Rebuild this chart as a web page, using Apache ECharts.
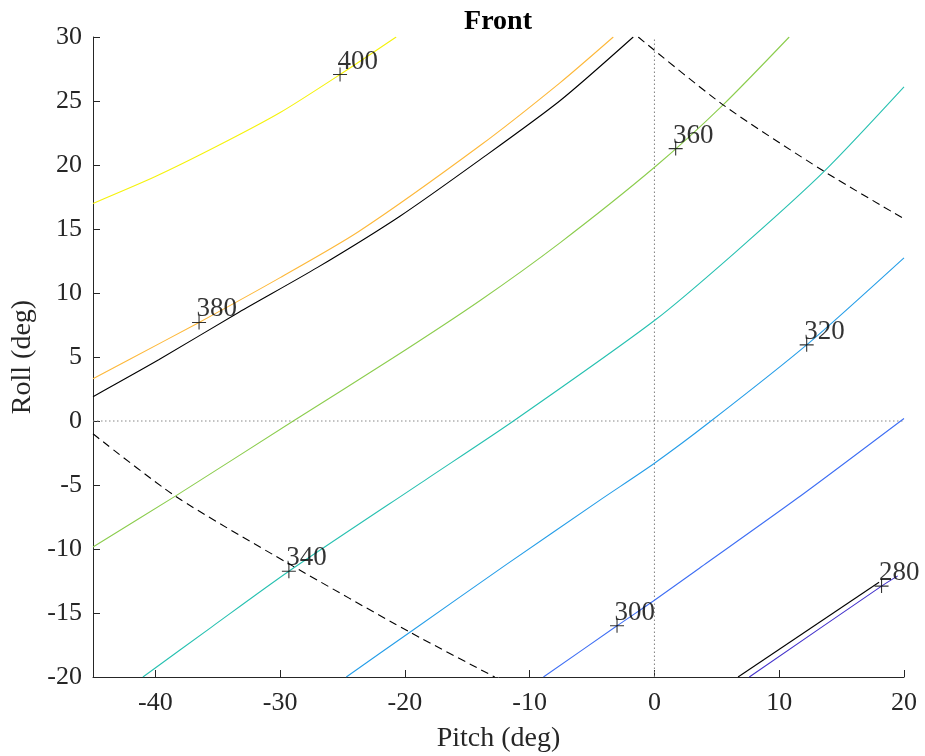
<!DOCTYPE html>
<html>
<head>
<meta charset="utf-8">
<script src="https://cdn.jsdelivr.net/npm/echarts@6/dist/echarts.min.js"></script>
<style>html,body{margin:0;padding:0;background:#fff}#c{width:925px;height:756px}</style>
</head>
<body>
<div id="c"></div>
<script>
// ---- data (pitch deg, roll deg) ----
const xTickValues = [-40, -30, -20, -10, 0, 10, 20];
const contour400 = [[-45,17.0],[-40,19.1],[-35,21.5],[-30,24.1],[-25.2,27.07],[-20.7,30.0]];
const contour380 = [[-45,3.3],[-42.2,4.75],[-36.5,7.7],[-30,11.2],[-23.7,14.8],[-14.0,21.5],[-7.6,26.4],[-3.3,30.0]];
const boundaryUpper = [[-45,1.9],[-39.7,4.8],[-33.3,8.5],[-27,12.0],[-20.4,16.0],[-14.0,20.4],[-7.6,25.0],[-1.7,30.0]];
const contour360 = [[-45,-9.84],[-38.4,-5.87],[-28.95,0],[-21.0,4.9],[-14.0,9.4],[-7.6,13.9],[0.1,19.9],[5.5,24.7],[10.8,30.0]];
const contour340 = [[-41.0,-20],[-35.5,-16.1],[-29.3,-11.74],[-18.2,-4.5],[-11.3,0],[0,7.85],[6.5,13.2],[13.6,19.5],[20,26.1]];
const contour320 = [[-24.7,-20],[-19.6,-16.5],[-12,-11.3],[-4.4,-6.2],[0,-3.3],[4.4,-0.1],[12.2,5.95],[20,12.75]];
const contour300 = [[-8.9,-20],[-3.0,-16.0],[0,-14.0],[3.6,-11.5],[11.5,-6.0],[20,0.2]];
const contour280 = [[7.6,-20],[18.2,-12.9],[19.5,-12.1]];
const boundaryLower = [[6.7,-20],[18.0,-12.6]];
const dashedUpper = [[-1.3,30.0],[5.5,24.7],[13.6,19.5],[20,15.8]];
const dashedLower = [[-45,-1.0],[-38.4,-5.87],[-29.4,-11.1],[-19.6,-16.5],[-12.8,-20]];
const zeroPitchLine = [[0,-20],[0,30]];
const zeroRollLine = [[-45,0],[20,0]];
const contourLabels = [[-25.2,27.07,'400'],[-36.5,7.7,'380'],[1.7,21.28,'360'],[-29.3,-11.74,'340'],[12.2,5.95,'320'],[-3.0,-16.0,'300'],[18.2,-12.9,'280']];

const FONT = 'Liberation Serif';
const chart = echarts.init(document.getElementById('c'), null, {renderer:'canvas'});

function curve(data, color, type) {
  return {
    type: 'line', data: data, showSymbol: false, symbol: 'none',
    smooth: data.length > 2 ? 0.25 : false,
    lineStyle: {color: color, width: 1.1, type: type || 'solid'},
    silent: true, z: 2, animation: false
  };
}

const option = {
  animation: false,
  backgroundColor: '#ffffff',
  title: {
    text: 'Front', left: 493, top: 3, textAlign: 'center',
    textStyle: {fontFamily: FONT, fontSize: 28, fontWeight: 'bold', color: '#000'}
  },
  grid: {left: 93, right: 21, top: 37, bottom: 79, containLabel: false, outerBoundsMode: 'none'},
  xAxis: {
    type: 'value', min: -45, max: 20,
    name: 'Pitch (deg)', nameLocation: 'middle', nameGap: 48,
    nameTextStyle: {fontFamily: FONT, fontSize: 28, color: '#262626'},
    axisLine: {show: true, onZero: false, lineStyle: {color: '#262626', width: 1}},
    axisTick: {show: true, inside: true, length: 7, customValues: xTickValues, lineStyle: {color: '#262626'}},
    axisLabel: {customValues: xTickValues, fontFamily: FONT, fontSize: 26, color: '#262626', margin: 13},
    splitLine: {show: false}
  },
  yAxis: {
    type: 'value', min: -20, max: 30, interval: 5,
    name: 'Roll (deg)', nameLocation: 'middle', nameGap: 52, nameRotate: 90,
    nameTextStyle: {fontFamily: FONT, fontSize: 28, color: '#262626'},
    axisLine: {show: true, onZero: false, lineStyle: {color: '#262626', width: 1}},
    axisTick: {show: true, inside: true, length: 7, lineStyle: {color: '#262626'}},
    axisLabel: {fontFamily: FONT, fontSize: 26, color: '#262626', margin: 11},
    splitLine: {show: false}
  },
  series: [
    curve(zeroPitchLine, '#888888', [1.5, 2.5]),
    curve(zeroRollLine, '#888888', [1.5, 2.5]),
    curve(contour400, '#f5f20c'),
    curve(contour380, '#fdb83a'),
    curve(boundaryUpper, '#000000'),
    curve(contour360, '#8ccd4e'),
    curve(contour340, '#27c1b1'),
    curve(contour320, '#269ee8'),
    curve(contour300, '#3f6ff4'),
    curve(contour280, '#4433cc'),
    curve(boundaryLower, '#000000'),
    curve(dashedUpper, '#000000', [8, 5]),
    curve(dashedLower, '#000000', [8, 5]),
    {
      type: 'scatter', data: contourLabels, symbol: 'path://M7,0L7,14M0,7L14,7', symbolSize: 14,
      itemStyle: {color: 'rgba(0,0,0,0)', borderColor: '#000', borderWidth: 1.1},
      label: {
        show: true, position: [5, 8], align: 'left', verticalAlign: 'bottom',
        formatter: p => p.value[2],
        fontFamily: FONT, fontSize: 27, color: '#000'
      },
      silent: true, z: 5, animation: false
    }
  ]
};
chart.setOption(option);
</script>
</body>
</html>
